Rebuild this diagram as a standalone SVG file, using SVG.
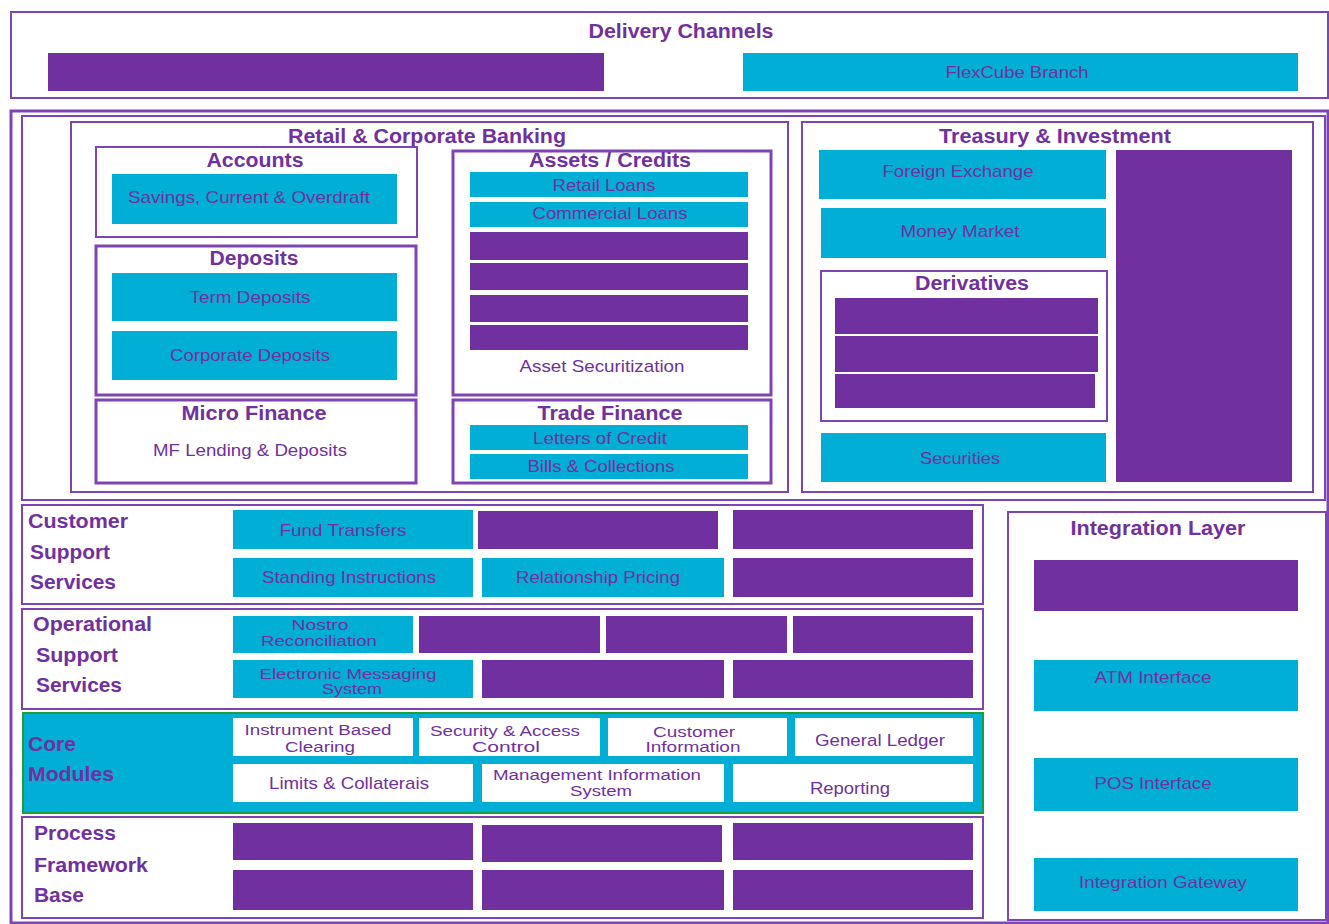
<svg xmlns="http://www.w3.org/2000/svg" width="1329" height="924" viewBox="0 0 1329 924">
<style>
.pf{fill:#7030A0}
.cy{fill:#00AED6}
.wh{fill:#FFFFFF}
.bx{fill:none;stroke:#7F44B4;stroke-width:2}
.bx3{fill:none;stroke:#7F44B4;stroke-width:3}
text{font-family:"Liberation Sans",Arial,sans-serif;fill:#7030A0;text-anchor:middle}
.h{font-weight:bold;font-size:20px}
.n{font-size:17px}
.s{font-size:14px}
.l{font-weight:bold;font-size:20px;text-anchor:start}
</style>
<rect width="1329" height="924" fill="#FFFFFF"/>

<g id="delivery-channels">
<rect class="bx" x="11" y="12" width="1317" height="86"/>
<text class="h" x="681" y="38" textLength="185" lengthAdjust="spacingAndGlyphs">Delivery Channels</text>
<rect class="pf" x="48" y="53" width="556" height="38"/>
<g id="flexcube-branch"><rect class="cy" x="743" y="53" width="555" height="38"/>
<text class="n" x="1017" y="78" textLength="143" lengthAdjust="spacingAndGlyphs">FlexCube Branch</text></g>
</g>

<g id="main-frame">
<rect class="bx3" x="11" y="111" width="1317" height="812"/>
<rect class="bx" x="22" y="116" width="1303" height="384"/>
</g>

<g id="retail-corporate">
<rect class="bx" x="71" y="122" width="717" height="370"/>
<text class="h" x="427" y="143" textLength="278" lengthAdjust="spacingAndGlyphs">Retail &amp; Corporate Banking</text>
</g>

<g id="accounts">
<rect class="bx" x="96" y="147" width="321" height="90"/>
<text class="h" x="255" y="167" textLength="97" lengthAdjust="spacingAndGlyphs">Accounts</text>
<rect class="cy" x="112" y="174" width="285" height="50"/>
<text class="n" x="249" y="203" textLength="242" lengthAdjust="spacingAndGlyphs">Savings, Current &amp; Overdraft</text>
</g>

<g id="deposits">
<rect class="bx3" x="96" y="246" width="320" height="149"/>
<text class="h" x="254" y="265" textLength="89" lengthAdjust="spacingAndGlyphs">Deposits</text>
<rect class="cy" x="112" y="273" width="285" height="48"/>
<text class="n" x="250" y="303" textLength="121" lengthAdjust="spacingAndGlyphs">Term Deposits</text>
<rect class="cy" x="112" y="331" width="285" height="49"/>
<text class="n" x="250" y="361" textLength="160" lengthAdjust="spacingAndGlyphs">Corporate Deposits</text>
</g>

<g id="micro-finance">
<rect class="bx3" x="96" y="400" width="320" height="83"/>
<text class="h" x="254" y="420" textLength="145" lengthAdjust="spacingAndGlyphs">Micro Finance</text>
<text class="n" x="250" y="456" textLength="194" lengthAdjust="spacingAndGlyphs">MF Lending &amp; Deposits</text>
</g>

<g id="assets-credits">
<rect class="bx3" x="453" y="151" width="318" height="244"/>
<text class="h" x="610" y="167" textLength="162" lengthAdjust="spacingAndGlyphs">Assets / Credits</text>
<rect class="cy" x="470" y="172" width="278" height="25"/>
<text class="n" x="604" y="191" textLength="103" lengthAdjust="spacingAndGlyphs">Retail Loans</text>
<rect class="cy" x="470" y="202" width="278" height="25"/>
<text class="n" x="610" y="219" textLength="155" lengthAdjust="spacingAndGlyphs">Commercial Loans</text>
<rect class="pf" x="470" y="232" width="278" height="28"/>
<rect class="pf" x="470" y="263" width="278" height="27"/>
<rect class="pf" x="470" y="295" width="278" height="27"/>
<rect class="pf" x="470" y="325" width="278" height="25"/>
<text class="n" x="602" y="372" textLength="165" lengthAdjust="spacingAndGlyphs">Asset Securitization</text>
</g>

<g id="trade-finance">
<rect class="bx3" x="453" y="400" width="318" height="83"/>
<text class="h" x="610" y="420" textLength="145" lengthAdjust="spacingAndGlyphs">Trade Finance</text>
<rect class="cy" x="470" y="425" width="278" height="25"/>
<text class="n" x="600" y="444" textLength="134" lengthAdjust="spacingAndGlyphs">Letters of Credit</text>
<rect class="cy" x="470" y="454" width="278" height="25"/>
<text class="n" x="601" y="472" textLength="147" lengthAdjust="spacingAndGlyphs">Bills &amp; Collections</text>
</g>

<g id="treasury-investment">
<rect class="bx" x="802" y="122" width="511" height="370"/>
<text class="h" x="1055" y="143" textLength="232" lengthAdjust="spacingAndGlyphs">Treasury &amp; Investment</text>
<rect class="cy" x="819" y="150" width="287" height="49"/>
<text class="n" x="958" y="177" textLength="151" lengthAdjust="spacingAndGlyphs">Foreign Exchange</text>
<rect class="cy" x="821" y="208" width="285" height="50"/>
<text class="n" x="960" y="237" textLength="119" lengthAdjust="spacingAndGlyphs">Money Market</text>
<rect class="cy" x="821" y="433" width="285" height="49"/>
<text class="n" x="960" y="464" textLength="80" lengthAdjust="spacingAndGlyphs">Securities</text>
<rect class="pf" x="1116" y="150" width="176" height="332"/>
</g>

<g id="derivatives">
<rect class="bx" x="821" y="271" width="286" height="150"/>
<text class="h" x="972" y="290" textLength="114" lengthAdjust="spacingAndGlyphs">Derivatives</text>
<rect class="pf" x="835" y="298" width="263" height="36"/>
<rect class="pf" x="835" y="336" width="263" height="36"/>
<rect class="pf" x="835" y="374" width="260" height="34"/>
</g>

<g id="customer-support">
<rect class="bx" x="22" y="505" width="961" height="99"/>
<text class="l" x="28" y="528" textLength="100" lengthAdjust="spacingAndGlyphs">Customer</text>
<text class="l" x="30" y="559" textLength="80" lengthAdjust="spacingAndGlyphs">Support</text>
<text class="l" x="30" y="589" textLength="86" lengthAdjust="spacingAndGlyphs">Services</text>
<rect class="cy" x="233" y="510" width="240" height="39"/>
<text class="n" x="343" y="536" textLength="127" lengthAdjust="spacingAndGlyphs">Fund Transfers</text>
<rect class="pf" x="478" y="511" width="240" height="38"/>
<rect class="pf" x="733" y="510" width="240" height="39"/>
<rect class="cy" x="233" y="558" width="240" height="39"/>
<text class="n" x="349" y="583" textLength="174" lengthAdjust="spacingAndGlyphs">Standing Instructions</text>
<rect class="cy" x="482" y="558" width="242" height="39"/>
<text class="n" x="598" y="583" textLength="164" lengthAdjust="spacingAndGlyphs">Relationship Pricing</text>
<rect class="pf" x="733" y="558" width="240" height="39"/>
</g>

<g id="operational-support">
<rect class="bx" x="22" y="609" width="961" height="100"/>
<text class="l" x="33" y="631" textLength="119" lengthAdjust="spacingAndGlyphs">Operational</text>
<text class="l" x="36" y="662" textLength="82" lengthAdjust="spacingAndGlyphs">Support</text>
<text class="l" x="36" y="692" textLength="86" lengthAdjust="spacingAndGlyphs">Services</text>
<rect class="cy" x="233" y="616" width="180" height="37"/>
<text class="s" x="320" y="630" textLength="57" lengthAdjust="spacingAndGlyphs">Nostro</text>
<text class="s" x="319" y="646" textLength="116" lengthAdjust="spacingAndGlyphs">Reconciliation</text>
<rect class="pf" x="419" y="616" width="181" height="37"/>
<rect class="pf" x="606" y="616" width="181" height="37"/>
<rect class="pf" x="793" y="616" width="180" height="37"/>
<rect class="cy" x="233" y="660" width="240" height="38"/>
<text class="s" x="348" y="679" textLength="177" lengthAdjust="spacingAndGlyphs">Electronic Messaging</text>
<text class="s" x="352" y="694" textLength="60" lengthAdjust="spacingAndGlyphs">System</text>
<rect class="pf" x="482" y="660" width="242" height="38"/>
<rect class="pf" x="733" y="660" width="240" height="38"/>
</g>

<g id="core-modules">
<rect x="23" y="713" width="960" height="100" fill="#00AED6" stroke="#1E9E3A" stroke-width="2"/>
<text class="l" x="28" y="751" textLength="48" lengthAdjust="spacingAndGlyphs">Core</text>
<text class="l" x="28" y="781" textLength="86" lengthAdjust="spacingAndGlyphs">Modules</text>
<rect class="wh" x="233" y="718" width="180" height="38"/>
<text class="s" x="318" y="735" textLength="147" lengthAdjust="spacingAndGlyphs">Instrument Based</text>
<text class="s" x="320" y="752" textLength="70" lengthAdjust="spacingAndGlyphs">Clearing</text>
<rect class="wh" x="419" y="718" width="181" height="38"/>
<text class="s" x="505" y="736" textLength="150" lengthAdjust="spacingAndGlyphs">Security &amp; Access</text>
<text class="s" x="506" y="752" textLength="68" lengthAdjust="spacingAndGlyphs">Control</text>
<rect class="wh" x="608" y="718" width="179" height="38"/>
<text class="s" x="694" y="737" textLength="82" lengthAdjust="spacingAndGlyphs">Customer</text>
<text class="s" x="693" y="752" textLength="95" lengthAdjust="spacingAndGlyphs">Information</text>
<rect class="wh" x="795" y="718" width="178" height="38"/>
<text class="n" x="880" y="746" textLength="130" lengthAdjust="spacingAndGlyphs">General Ledger</text>
<rect class="wh" x="233" y="764" width="240" height="38"/>
<text class="n" x="349" y="789" textLength="160" lengthAdjust="spacingAndGlyphs">Limits &amp; Collaterais</text>
<rect class="wh" x="482" y="764" width="242" height="38"/>
<text class="s" x="597" y="780" textLength="208" lengthAdjust="spacingAndGlyphs">Management Information</text>
<text class="s" x="601" y="796" textLength="62" lengthAdjust="spacingAndGlyphs">System</text>
<rect class="wh" x="733" y="764" width="240" height="38"/>
<text class="n" x="850" y="794" textLength="80" lengthAdjust="spacingAndGlyphs">Reporting</text>
</g>

<g id="process-framework">
<rect class="bx" x="22" y="817" width="961" height="101"/>
<text class="l" x="34" y="840" textLength="82" lengthAdjust="spacingAndGlyphs">Process</text>
<text class="l" x="34" y="872" textLength="114" lengthAdjust="spacingAndGlyphs">Framework</text>
<text class="l" x="34" y="902" textLength="50" lengthAdjust="spacingAndGlyphs">Base</text>
<rect class="pf" x="233" y="823" width="240" height="37"/>
<rect class="pf" x="482" y="825" width="240" height="37"/>
<rect class="pf" x="733" y="823" width="240" height="37"/>
<rect class="pf" x="233" y="870" width="240" height="40"/>
<rect class="pf" x="482" y="870" width="242" height="40"/>
<rect class="pf" x="733" y="870" width="240" height="40"/>
</g>

<g id="integration-layer">
<rect class="bx" x="1008" y="512" width="318" height="408"/>
<text class="h" x="1158" y="535" textLength="175" lengthAdjust="spacingAndGlyphs">Integration Layer</text>
<rect class="pf" x="1034" y="560" width="264" height="51"/>
<rect class="cy" x="1034" y="660" width="264" height="51"/>
<text class="n" x="1153" y="683" textLength="117" lengthAdjust="spacingAndGlyphs">ATM Interface</text>
<rect class="cy" x="1034" y="758" width="264" height="53"/>
<text class="n" x="1153" y="789" textLength="117" lengthAdjust="spacingAndGlyphs">POS Interface</text>
<rect class="cy" x="1034" y="858" width="264" height="53"/>
<text class="n" x="1163" y="888" textLength="168" lengthAdjust="spacingAndGlyphs">Integration Gateway</text>
</g>

<g id="connectors"></g>
</svg>
